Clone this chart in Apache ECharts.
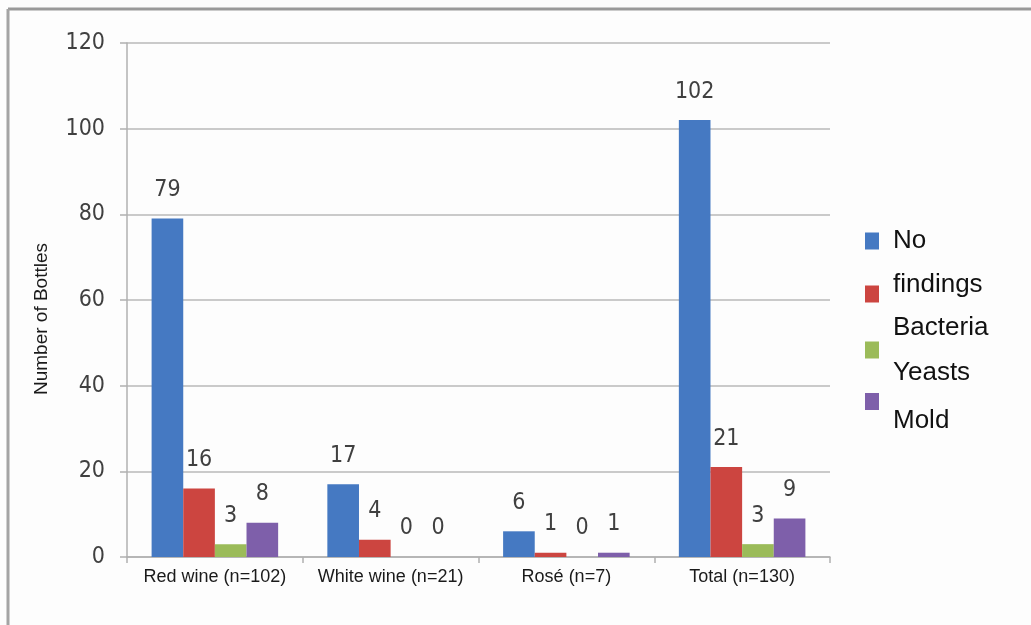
<!DOCTYPE html>
<html>
<head>
<meta charset="utf-8">
<script src="https://cdn.jsdelivr.net/npm/echarts@6/dist/echarts.min.js"></script>
<style>
  html, body { margin: 0; padding: 0; background: #fdfdfd; }
  #chart { width: 1031px; height: 625px; }
</style>
</head>
<body>
<div id="chart"></div>
<script>
// Wine bottles by microbiological finding
const categories = ['Red wine (n=102)', 'White wine (n=21)', 'Rosé (n=7)', 'Total (n=130)'];
const noFindings = [79, 17, 6, 102];
const bacteria = [16, 4, 1, 21];
const yeasts = [3, 0, 0, 3];
const mold = [8, 0, 1, 9];
const seriesNames = ['No findings', 'Bacteria', 'Yeasts', 'Mold'];
const yTicks = { min: 0, max: 120, step: 20 };

const colors = ['#4579C2', '#CC4540', '#9BBB59', '#7E5FAA'];
const numFont = "'DejaVu Sans Condensed', 'Liberation Sans Narrow', sans-serif";
const textFont = "'Liberation Sans', Arial, sans-serif";

const chart = echarts.init(document.getElementById('chart'));

function barSeries(name, data, color) {
  return {
    name: name,
    type: 'bar',
    data: data,
    barGap: '0%',
    barCategoryGap: '28%',
    itemStyle: { color: color },
    label: {
      show: true,
      position: 'top',
      distance: 17,
      color: '#404040',
      fontFamily: numFont,
      fontSize: 23
    }
  };
}

// Rich-text styles for the legend lines; padding nudges each line up or down
function lineStyle(padTop, padBottom) {
  return {
    fontFamily: textFont,
    fontSize: 26,
    lineHeight: 45,
    color: '#111',
    padding: [padTop, 0, padBottom, 9]
  };
}

// Legend entries: each series gets its own stacked entry on the right
function legendEntry(name, top, text) {
  return {
    data: [name],
    orient: 'vertical',
    left: 865,
    top: top,
    padding: 0,
    itemWidth: 14,
    itemHeight: 17,
    icon: 'rect',
    formatter: function () { return text; },
    textStyle: {
      fontFamily: textFont,
      fontSize: 26,
      lineHeight: 45,
      color: '#111',
      rich: {
        n: lineStyle(0, 0),
        up: lineStyle(0, 18),
        dn: lineStyle(38, 0)
      }
    }
  };
}

chart.setOption({
  backgroundColor: '#fdfdfd',
  animation: false,
  color: colors,
  graphic: [
    { type: 'line', shape: { x1: 8, y1: 9, x2: 1031, y2: 9 }, style: { stroke: '#9a9a9a', lineWidth: 3 } },
    { type: 'line', shape: { x1: 8, y1: 9, x2: 8, y2: 625 }, style: { stroke: '#a4a4a4', lineWidth: 3 } }
  ],
  legend: [
    legendEntry(seriesNames[0], 218.5, '{n|No}'),
    legendEntry(seriesNames[1], 271.5, '{up|findings}'),
    legendEntry(seriesNames[2], 305, '{n|Bacteria}\n{n|Yeasts}'),
    legendEntry(seriesNames[3], 369.5, '{dn|Mold}')
  ],
  grid: { left: 127, right: 201, top: 43, bottom: 68 },
  xAxis: {
    type: 'category',
    data: categories,
    axisLine: { lineStyle: { color: '#b0b0b0', width: 1.5 } },
    axisTick: { show: true, length: 6, lineStyle: { color: '#b0b0b0', width: 1.5 } },
    axisLabel: { interval: 0, margin: 11, color: '#1a1a1a', fontFamily: textFont, fontSize: 18 }
  },
  yAxis: {
    type: 'value',
    min: yTicks.min,
    max: yTicks.max,
    interval: yTicks.step,
    name: 'Number of Bottles',
    nameLocation: 'middle',
    nameGap: 76,
    nameTextStyle: { color: '#1a1a1a', fontFamily: textFont, fontSize: 19, padding: [0, 38, 0, 0] },
    axisLine: { show: true, lineStyle: { color: '#b0b0b0', width: 1.5 } },
    axisTick: { show: true, length: 7, lineStyle: { color: '#b0b0b0', width: 1.5 } },
    axisLabel: { margin: 22, color: '#404040', fontFamily: numFont, fontSize: 23 },
    splitLine: { lineStyle: { color: '#b8b8b8', width: 1.5 } }
  },
  series: [
    barSeries(seriesNames[0], noFindings, colors[0]),
    barSeries(seriesNames[1], bacteria, colors[1]),
    barSeries(seriesNames[2], yeasts, colors[2]),
    barSeries(seriesNames[3], mold, colors[3])
  ]
});
</script>
</body>
</html>
